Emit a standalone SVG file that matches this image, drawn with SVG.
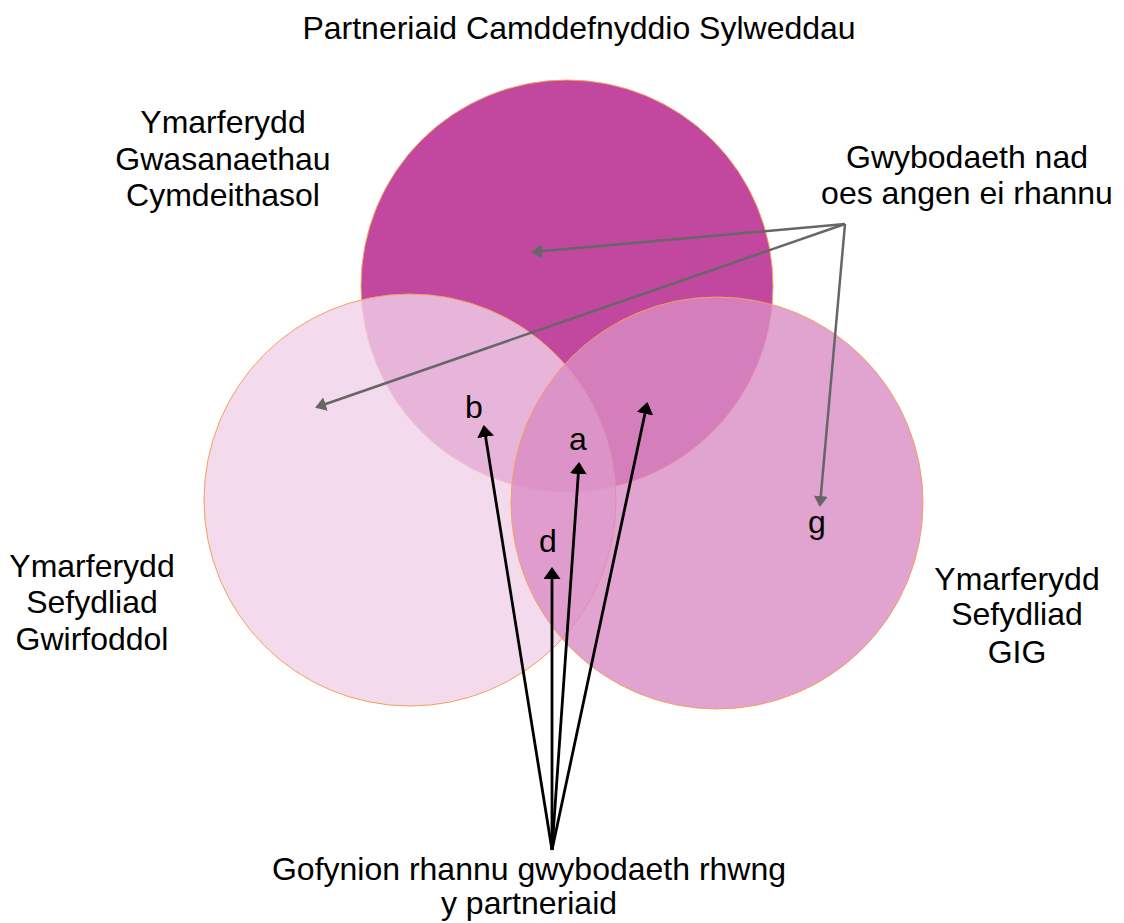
<svg xmlns="http://www.w3.org/2000/svg" width="1124" height="923" viewBox="0 0 1124 923">
<defs>
<style>
.t{font-family:"Liberation Sans","DejaVu Sans",sans-serif;font-size:32px;fill:#000;text-anchor:middle}
.c{stroke:#F5A05A;stroke-width:1}
.g{stroke:#666;stroke-width:2.5;fill:none}
.k{stroke:#000;stroke-width:2.8;fill:none}
</style>
<marker id="ag" viewBox="0 0 11 14" refX="9" refY="7" markerWidth="11" markerHeight="14" markerUnits="userSpaceOnUse" orient="auto"><path d="M0,0L11,7L0,14z" fill="#666"/></marker>
<marker id="ak" viewBox="0 0 12 17" refX="10" refY="8.5" markerWidth="12" markerHeight="17" markerUnits="userSpaceOnUse" orient="auto"><path d="M0,0L12,8.5L0,17z" fill="#000"/></marker>
</defs>
<rect width="1124" height="923" fill="#fff"/>
<g id="circle-top"><circle class="c" cx="567" cy="286" r="206" fill="#C2479E"/></g>
<g id="circle-left"><circle class="c" cx="410" cy="500" r="206" fill="#F0D1E8" fill-opacity="0.8"/></g>
<g id="circle-right"><circle class="c" cx="717" cy="503" r="206" fill="#D98CC3" fill-opacity="0.8"/></g>
<g id="connectors">
<line class="g" x1="845" y1="224" x2="533" y2="252" marker-end="url(#ag)"/>
<line class="g" x1="845" y1="224" x2="317" y2="407" marker-end="url(#ag)"/>
<line class="g" x1="845" y1="224" x2="820" y2="505" marker-end="url(#ag)"/>
<line class="k" x1="552" y1="850" x2="484" y2="427" marker-end="url(#ak)"/>
<line class="k" x1="552" y1="850" x2="579" y2="464" marker-end="url(#ak)"/>
<line class="k" x1="552" y1="850" x2="552" y2="569" marker-end="url(#ak)"/>
<line class="k" x1="552" y1="850" x2="647" y2="404" marker-end="url(#ak)"/>
</g>
<g id="title"><text class="t" x="579" y="39">Partneriaid Camddefnyddio Sylweddau</text></g>
<g id="label-social"><text class="t" x="223" y="133">Ymarferydd</text><text class="t" x="223" y="170">Gwasanaethau</text><text class="t" x="223" y="206">Cymdeithasol</text></g>
<g id="label-noshare"><text class="t" x="967" y="168">Gwybodaeth nad</text><text class="t" x="967" y="204">oes angen ei rhannu</text></g>
<g id="label-voluntary"><text class="t" x="92" y="577">Ymarferydd</text><text class="t" x="92" y="613">Sefydliad</text><text class="t" x="92" y="650">Gwirfoddol</text></g>
<g id="label-nhs"><text class="t" x="1017" y="590">Ymarferydd</text><text class="t" x="1017" y="625">Sefydliad</text><text class="t" x="1017" y="663">GIG</text></g>
<g id="label-req"><text class="t" x="529" y="880">Gofynion rhannu gwybodaeth rhwng</text><text class="t" x="529" y="914">y partneriaid</text></g>
<g id="letters"><text class="t" x="474" y="418">b</text><text class="t" x="578" y="450">a</text><text class="t" x="548" y="552">d</text><text class="t" x="817" y="533">g</text></g>
</svg>
